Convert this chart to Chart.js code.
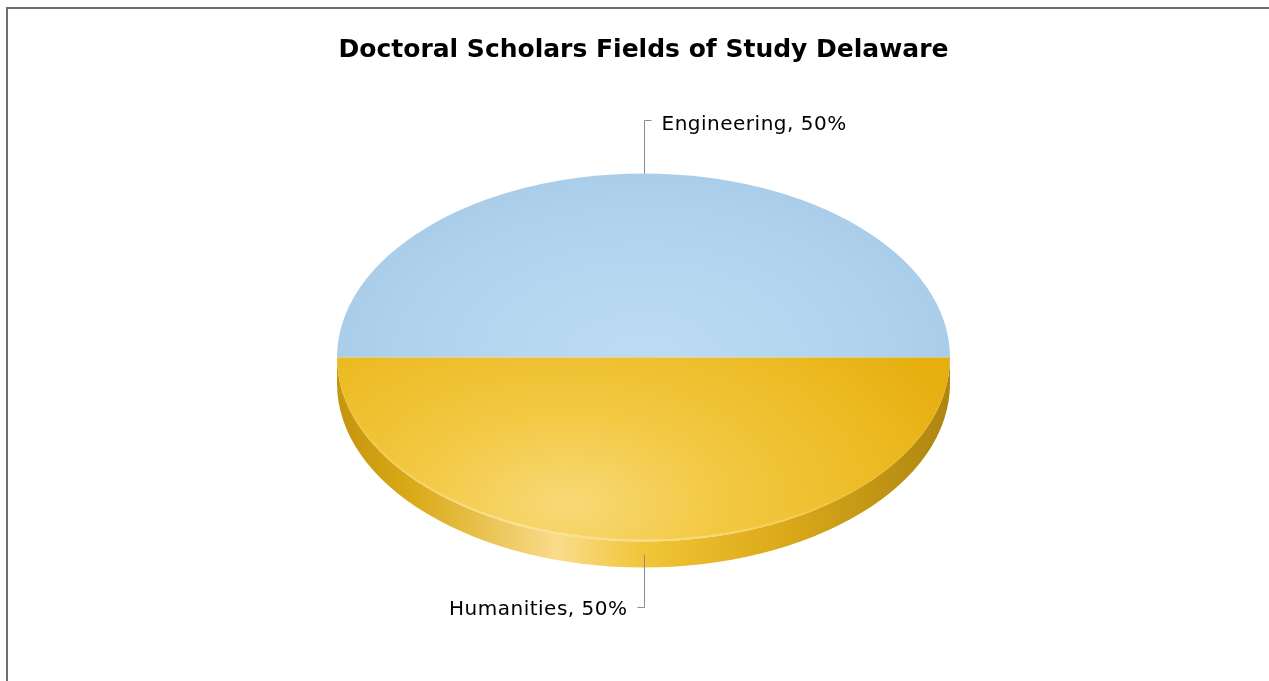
<!DOCTYPE html>
<html>
<head>
<meta charset="utf-8">
<title>Doctoral Scholars Fields of Study Delaware</title>
<script src="https://cdn.jsdelivr.net/npm/chart.js@4/dist/chart.umd.min.js"></script>
<style>
  html, body { margin: 0; padding: 0; background: #fff; overflow: hidden; }
  #frame {
    position: absolute; left: 6px; top: 7px; width: 1400px; height: 800px;
    border-left: 2px solid #6e6e6e; border-top: 2px solid #6e6e6e;
  }
  #wrap { position: absolute; left: 8px; top: 0; width: 1271px; height: 681px; }
</style>
</head>
<body>
<div id="frame"></div>
<div id="wrap"><canvas id="chartFields"></canvas></div>
<script>
const TITLE = 'Doctoral Scholars Fields of Study Delaware';
const fields = ['Engineering', 'Humanities'];
const shares = [50, 50];

// look of the tilted pie (screen pixels)
const FONT = '"DejaVu Sans", Verdana, sans-serif';
const PIE_CY = 357.5;
const PIE_RX = 306.5;
const PIE_RY = 184;
const PIE_DEPTH = 26;
const LEADER_BACK = 54;
const LEADER_FRONT = 52;
const LEADER_COLOR = '#8c8c8c';

// radial fill for each slice top: centre offset (in radii) and colour stops
const faceStyles = [
  { fx: 0, fy: 0, r: 1.15, stops: [[0, '#bddcf4'], [0.6, '#b1d4ee'], [1, '#a6cae8']] },
  { fx: -0.25, fy: 0.8, r: 1.4, stops: [[0, '#f8d977'], [0.35, '#f3c944'], [0.75, '#ecba22'], [1, '#e6ae0e']] },
];
const wallStops = [
  [0, '#c4950f'], [0.12, '#d9a916'], [0.36, '#f9dc8c'], [0.5, '#f1c537'],
  [0.72, '#dcaa1b'], [1, '#ae850f'],
];

function pieGeometry(chart) {
  const a = chart.chartArea;
  const x = (a.left + a.right) / 2;
  const y = (a.top + a.bottom) / 2;
  const R = Math.min(a.right - a.left, a.bottom - a.top) / 2;
  return { x, y, R, sx: PIE_RX / R, sy: PIE_RY / R };
}

function faceFill(context) {
  const chart = context.chart;
  if (!chart.chartArea) return '#ccc';
  const g = pieGeometry(chart);
  const s = faceStyles[context.dataIndex % faceStyles.length];
  const grad = chart.ctx.createRadialGradient(
    g.x + s.fx * g.R, g.y + s.fy * g.R, 0,
    g.x + s.fx * g.R, g.y + s.fy * g.R, s.r * g.R
  );
  s.stops.forEach(([p, c]) => grad.addColorStop(p, c));
  return grad;
}

// clamp a slice's angular range to the front half (0..PI), where its wall shows
function frontRange(arc) {
  const two = Math.PI * 2;
  let s = arc.startAngle % two;
  if (s < 0) s += two;
  const e = s + (arc.endAngle - arc.startAngle);
  const from = Math.max(s, 0);
  const to = Math.min(e, Math.PI);
  return to > from ? [from, to] : null;
}

const tiltPlugin = {
  id: 'tilt',
  beforeDatasetsDraw(chart) {
    const ctx = chart.ctx;
    const g = pieGeometry(chart);
    const arcs = chart.getDatasetMeta(0).data;

    // side walls first
    arcs.forEach((arc) => {
      const r = frontRange(arc);
      if (!r) return;
      const [a0, a1] = r;
      ctx.save();
      ctx.beginPath();
      ctx.ellipse(g.x, PIE_CY, PIE_RX, PIE_RY, 0, a0, a1);
      ctx.lineTo(g.x + PIE_RX * Math.cos(a1), PIE_CY + PIE_RY * Math.sin(a1) + PIE_DEPTH);
      ctx.ellipse(g.x, PIE_CY + PIE_DEPTH, PIE_RX, PIE_RY, 0, a1, a0, true);
      ctx.closePath();
      const grad = ctx.createLinearGradient(g.x - PIE_RX, 0, g.x + PIE_RX, 0);
      wallStops.forEach(([p, c]) => grad.addColorStop(p, c));
      ctx.fillStyle = grad;
      ctx.fill();
      ctx.restore();
    });

    ctx.save();
    ctx.translate(g.x, PIE_CY);
    ctx.scale(g.sx, g.sy);
    ctx.translate(-g.x, -g.y);
  },
  afterDatasetsDraw(chart) {
    const ctx = chart.ctx;
    ctx.restore();
    const g = pieGeometry(chart);
    const arcs = chart.getDatasetMeta(0).data;

    // soft highlight on the front rim
    arcs.forEach((arc) => {
      const r = frontRange(arc);
      if (!r) return;
      ctx.save();
      const grad = ctx.createLinearGradient(g.x - PIE_RX, 0, g.x + PIE_RX, 0);
      grad.addColorStop(0, 'rgba(255,240,200,0)');
      grad.addColorStop(0.3, 'rgba(255,240,200,0.5)');
      grad.addColorStop(0.6, 'rgba(255,240,200,0.4)');
      grad.addColorStop(0.85, 'rgba(255,240,200,0)');
      ctx.strokeStyle = grad;
      ctx.lineWidth = 2;
      ctx.beginPath();
      ctx.ellipse(g.x, PIE_CY, PIE_RX - 1, PIE_RY - 1, 0, r[0], r[1]);
      ctx.stroke();
      ctx.restore();
    });

    // leader lines and labels
    ctx.save();
    ctx.font = '20px ' + FONT;
    ctx.letterSpacing = '0.5px';
    ctx.fillStyle = '#000';
    ctx.strokeStyle = LEADER_COLOR;
    ctx.lineWidth = 1;
    ctx.textBaseline = 'middle';
    arcs.forEach((arc, i) => {
      const mid = (arc.startAngle + arc.endAngle) / 2;
      const front = Math.sin(mid) > 0;
      const px = Math.round(g.x + PIE_RX * Math.cos(mid)) + 0.5;
      const py = PIE_CY + PIE_RY * Math.sin(mid) + (front ? PIE_DEPTH / 2 : 0);
      const ey = Math.round(py + (front ? LEADER_FRONT : -LEADER_BACK)) + 0.5;
      const dir = front ? -1 : 1;
      ctx.beginPath();
      ctx.moveTo(px, py);
      ctx.lineTo(px, ey);
      ctx.lineTo(px + dir * 7, ey);
      ctx.stroke();
      const text = `${fields[i]}, ${shares[i]}%`;
      ctx.textAlign = front ? 'right' : 'left';
      ctx.fillText(text, px + dir * 17, ey + (front ? 2 : 4));
    });
    ctx.restore();
  },
};

function renderFieldsChart() {
  const canvas = document.getElementById('chartFields');
  new Chart(canvas.getContext('2d'), {
    type: 'pie',
    data: {
      labels: fields,
      datasets: [{
        data: shares,
        backgroundColor: faceFill,
        borderWidth: 0,
        clip: false,
      }],
    },
    options: {
      responsive: true,
      maintainAspectRatio: false,
      animation: false,
      events: [],
      rotation: -90,
      layout: { padding: { top: 0, bottom: 10 } },
      plugins: {
        legend: { display: false },
        tooltip: { enabled: false },
        title: {
          display: true,
          text: TITLE,
          color: '#000',
          font: { family: FONT, size: 25, weight: 'bold' },
          padding: { top: 35, bottom: 10 },
        },
      },
    },
    plugins: [tiltPlugin],
  });
}

renderFieldsChart();
</script>
</body>
</html>
